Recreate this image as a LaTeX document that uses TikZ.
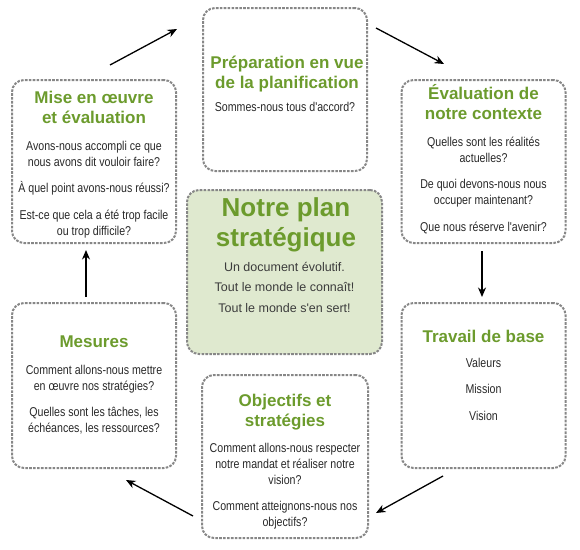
\documentclass[tikz,border=0pt]{standalone}
\usepackage{fontspec}
\setmainfont{Liberation Sans}
\newfontfamily\titlefam{Liberation Sans}
\newfontfamily\narrowfam[FakeStretch=0.83]{Liberation Sans}
\newfontfamily\regfam{Liberation Sans}
\usetikzlibrary{arrows.meta}
\definecolor{titlegreen}{RGB}{108,155,45}
\definecolor{centerfill}{RGB}{223,233,207}
\definecolor{dashgray}{RGB}{135,135,135}
\definecolor{bodytext}{RGB}{40,40,40}
\definecolor{centertext}{RGB}{60,60,60}
\tikzset{
  card/.style={draw=dashgray, line width=2pt, dash pattern=on 2.6pt off 1.3pt,
    rounded corners=12pt, minimum width=164pt, minimum height=163pt, inner sep=0pt},
  centercard/.style={card, fill=centerfill, minimum width=195pt, minimum height=164pt},
  ttl/.style={font=\titlefam\bfseries\fontsize{17}{20}\selectfont, text=titlegreen,
    align=center, inner sep=0pt, anchor=north},
  bigttl/.style={font=\titlefam\bfseries\fontsize{26}{30}\selectfont, text=titlegreen,
    align=center, inner sep=0pt, anchor=north},
  bodytxt/.style={font=\narrowfam\fontsize{12.8}{16}\selectfont, text=bodytext,
    align=center, inner sep=0pt, anchor=north},
  centertxt/.style={font=\regfam\fontsize{12.5}{20.5}\selectfont, text=centertext,
    align=center, inner sep=0pt, anchor=north},
  flow/.style={line width=1.3pt, -{Stealth[length=9.5pt,width=8pt]}}
}
\begin{document}
\begin{tikzpicture}[x=1pt,y=-1pt]
\useasboundingbox (0,0) rectangle (580,549);
% boxes
\node[card] (prep) at (285,89.5) {};
\node[card] (mise) at (94,161.5) {};
\node[card] (eval) at (483.5,161.5) {};
\node[centercard] (plan) at (284.5,272) {};
\node[card, minimum height=165pt] (mes) at (94,385.5) {};
\node[card, minimum width=166pt] (obj) at (285,456.5) {};
\node[card, minimum height=165pt] (trav) at (483.5,385.5) {};
% texts
\node[ttl] (prepT) at (287,55.5) {Préparation en vue\\de la planification};
\node[bodytxt] (prepB) at (285,102.5) {Sommes-nous tous d'accord?};

\node[ttl] (miseT) at (94,90.8) {Mise en œuvre\\et évaluation};
\node[bodytxt] (miseB) at (94,140.6) {Avons-nous accompli ce que\\nous avons dit vouloir faire?\\[10.5pt]À quel point avons-nous réussi?\\[10.5pt]Est-ce que cela a été trop facile\\ou trop difficile?};

\node[ttl] (evalT) at (483.5,84.6) {Évaluation de\\notre contexte};
\node[bodytxt] (evalB) at (483.5,136.6) {Quelles sont les réalités\\actuelles?\\[10.5pt]De quoi devons-nous nous\\occuper maintenant?\\[10.5pt]Que nous réserve l'avenir?};

\node[bigttl] (planT) at (286,197.2) {Notre plan\\stratégique};
\node[centertxt] (planB) at (284.5,261.7) {Un document évolutif.\\Tout le monde le connaît!\\Tout le monde s'en sert!};

\node[ttl] (travT) at (483.5,329.8) {Travail de base};
\node[bodytxt] (travB) at (483.5,357.6) {Valeurs\\[10.5pt]Mission\\[10.5pt]Vision};

\node[ttl] (mesT) at (94,335.8) {Mesures};
\node[bodytxt] (mesB) at (94,364.6) {Comment allons-nous mettre\\en œuvre nos stratégies?\\[10.5pt]Quelles sont les tâches, les\\échéances, les ressources?};

\node[ttl] (objT) at (285,393.6) {Objectifs et\\stratégies};
\node[bodytxt] (objB) at (285,442.6) {Comment allons-nous respecter\\notre mandat et réaliser notre\\vision?\\[10.5pt]Comment atteignons-nous nos\\objectifs?};
% arrow ends
\coordinate (a1s) at (110,65);  \coordinate (a1e) at (177,29);
\coordinate (a2s) at (376,28);  \coordinate (a2e) at (444,64);
\coordinate (a3s) at (482,251); \coordinate (a3e) at (482,297);
\coordinate (a4s) at (443,476); \coordinate (a4e) at (376,513);
\coordinate (a5s) at (193,516); \coordinate (a5e) at (126,480);
\coordinate (a6s) at (86,297);  \coordinate (a6e) at (86,250);
\draw[flow] (a1s) -- (a1e);
\draw[flow] (a2s) -- (a2e);
\draw[flow] (a3s) -- (a3e);
\draw[flow] (a4s) -- (a4e);
\draw[flow] (a5s) -- (a5e);
\draw[flow] (a6s) -- (a6e);
\end{tikzpicture}
\end{document}
